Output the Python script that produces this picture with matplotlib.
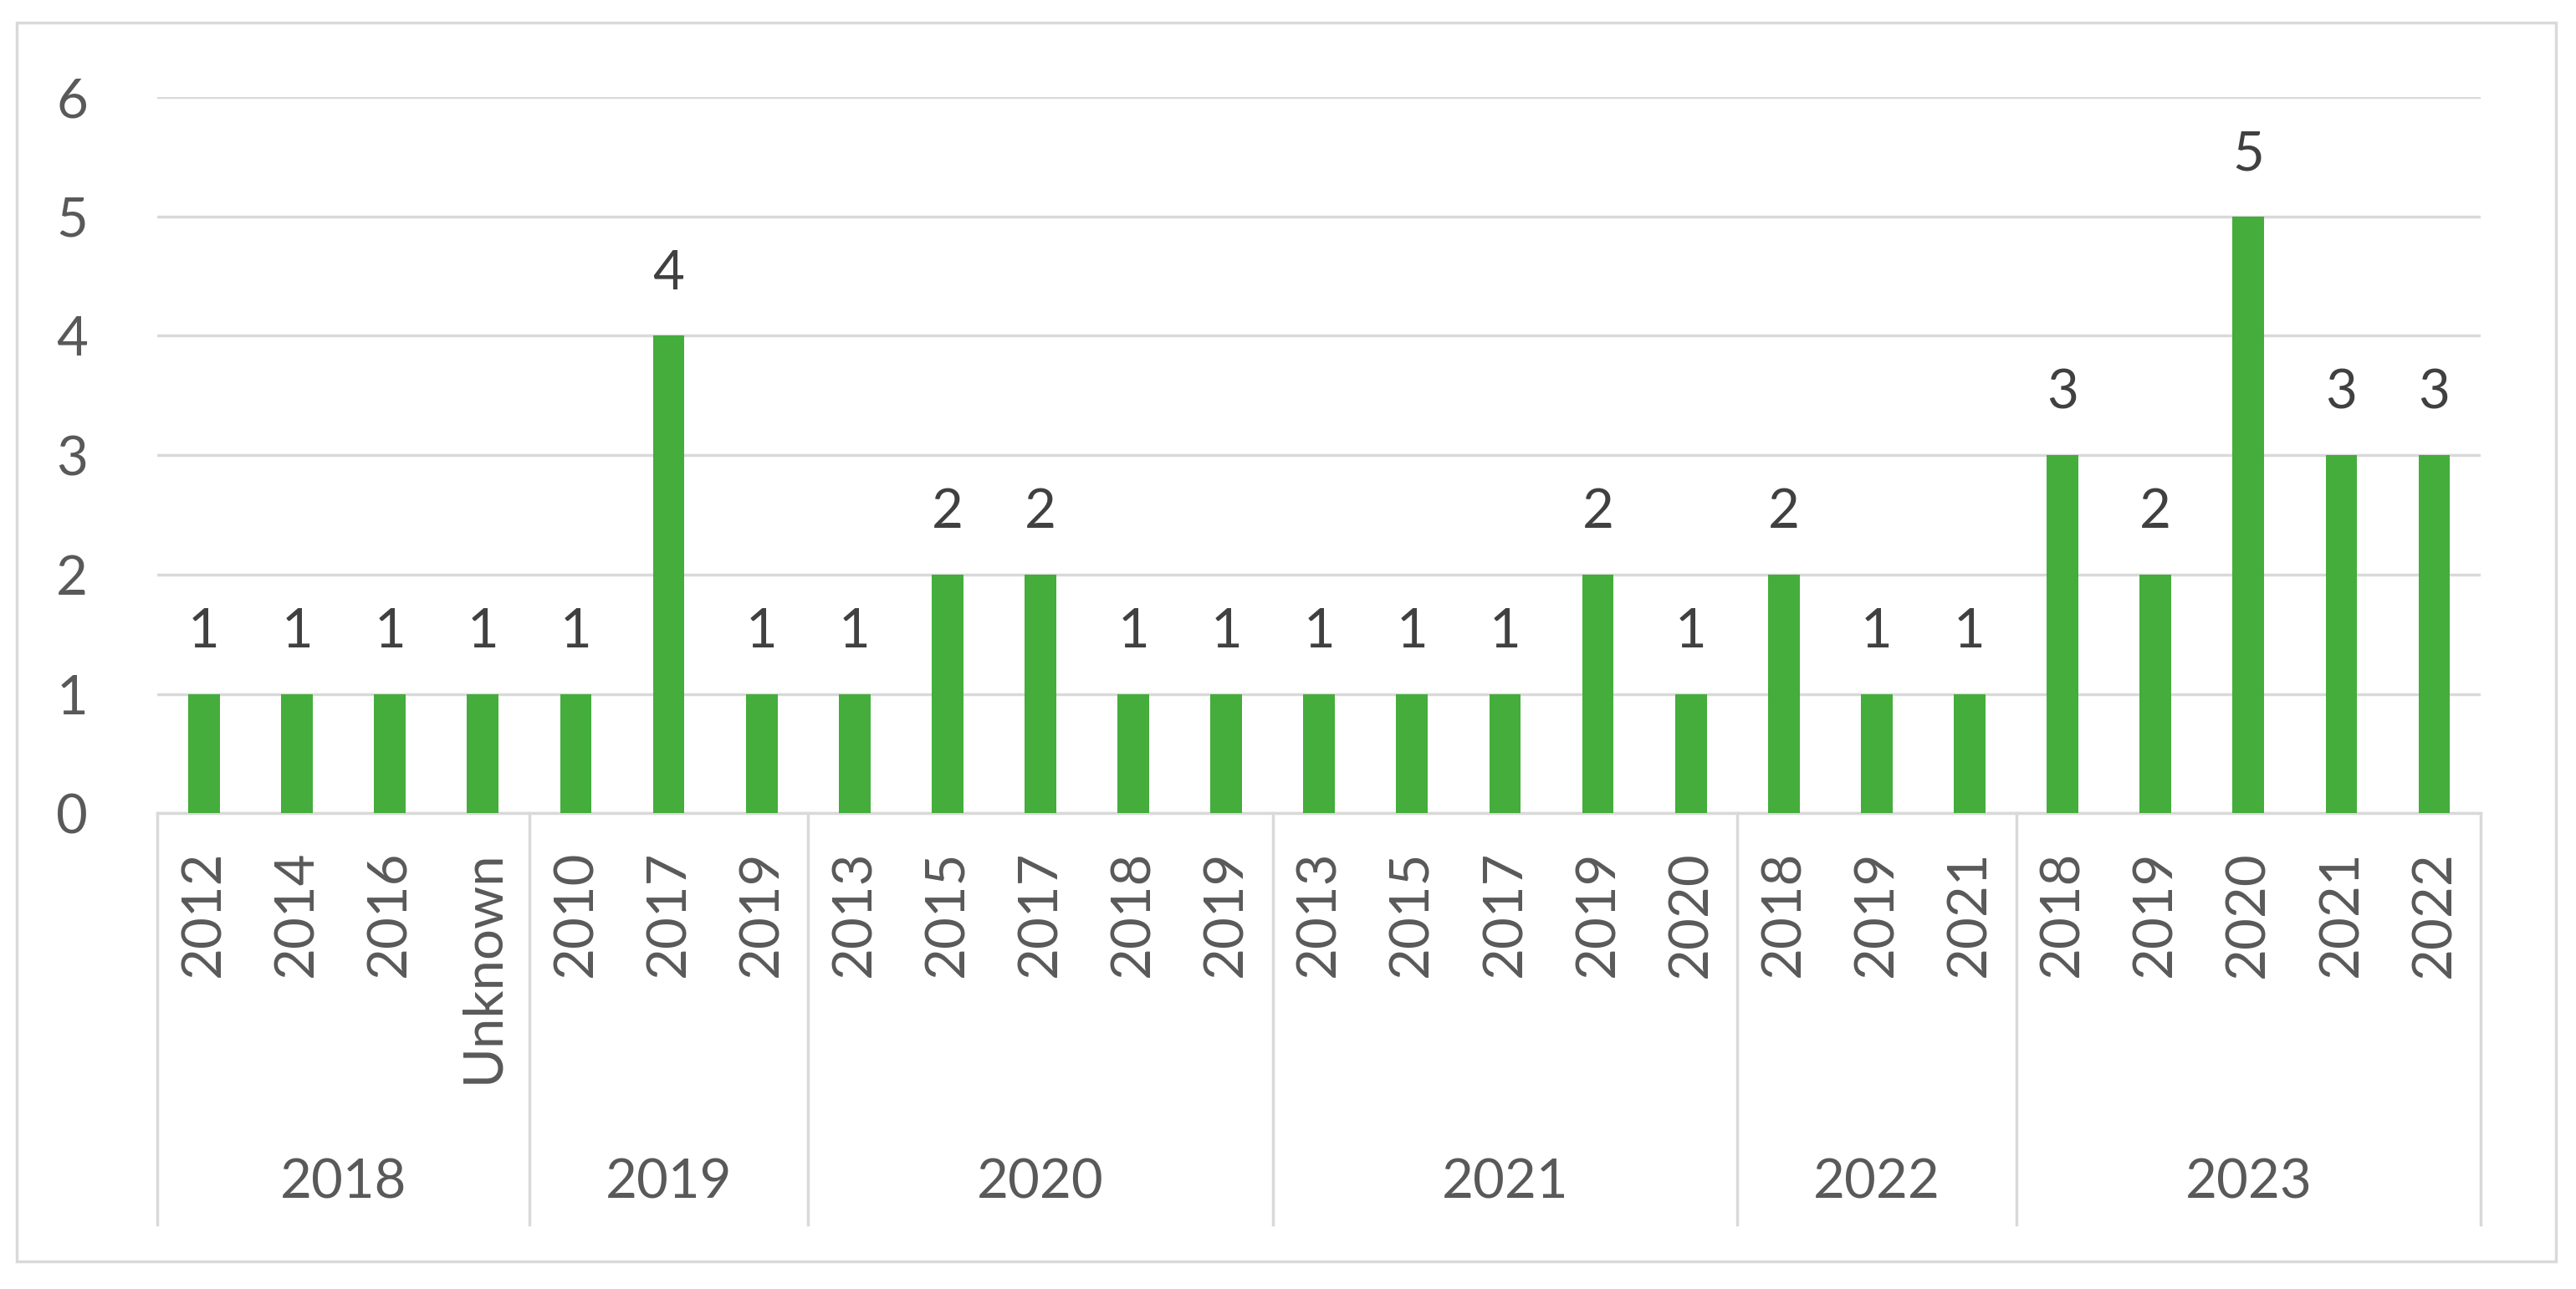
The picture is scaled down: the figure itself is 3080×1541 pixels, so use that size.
import matplotlib
matplotlib.use("Agg")
import matplotlib.pyplot as plt
import matplotlib.transforms as mtransforms
from matplotlib.patches import Rectangle
import numpy as np

plt.rcParams["font.family"] = ["Lato", "DejaVu Sans"]

# ── data ─────────────────────────────────────────────────────────────────────
groups = ["2018", "2019", "2020", "2021", "2022", "2023"]
sub_labels = [
    ["2012", "2014", "2016", "Unknown"],
    ["2010", "2017", "2019"],
    ["2013", "2015", "2017", "2018", "2019"],
    ["2013", "2015", "2017", "2019", "2020"],
    ["2018", "2019", "2021"],
    ["2018", "2019", "2020", "2021", "2022"],
]
counts = [
    [1, 1, 1, 1],
    [1, 4, 1],
    [1, 2, 2, 1, 1],
    [1, 1, 1, 2, 1],
    [2, 1, 1],
    [3, 2, 5, 3, 3],
]

GREEN = "#44AD3B"
GRID = "#D9D9D9"
TXT = "#595959"
LBL = "#404040"
FS = 47

labels = [s for g in sub_labels for s in g]
values = [v for g in counts for v in g]
x = np.arange(len(values))

fig = plt.figure(figsize=(30.8, 15.41), dpi=100, facecolor="white")
ax = fig.add_axes([0.0612, 0.369, 0.9018, 0.5557])

bars = ax.bar(x, values, width=0.34, color=GREEN, zorder=3)
for b, v in zip(bars, values):
    ax.annotate(str(v), xy=(b.get_x() + b.get_width() / 2, v), xytext=(0, 40),
                textcoords="offset points", ha="center", va="baseline",
                fontsize=FS, color=LBL)

ax.set_xlim(-0.5, len(values) - 0.5)
ax.set_ylim(0, 6)
ax.set_yticks(range(7))
ax.yaxis.grid(True, color=GRID, linewidth=2.5)
ax.set_axisbelow(True)
for s in ["top", "right", "left"]:
    ax.spines[s].set_visible(False)
ax.spines["bottom"].set_color(GRID)
ax.spines["bottom"].set_linewidth(2.5)
ax.tick_params(axis="y", length=0, pad=60, labelsize=FS, labelcolor=TXT)
ax.tick_params(axis="x", length=0, pad=32, labelsize=FS, labelcolor=TXT)
ax.set_xticks(x)
ax.set_xticklabels(labels, rotation=90, va="top")

# group separators and group labels
trans = mtransforms.blended_transform_factory(ax.transData, ax.transAxes)
start = 0
edges = [-0.5]
for g, sl in zip(groups, sub_labels):
    n = len(sl)
    ax.text(start + (n - 1) / 2, -0.516, g, transform=trans, ha="center",
            va="center", fontsize=FS, color=TXT)
    start += n
    edges.append(start - 0.5)
for e in edges:
    ax.plot([e, e], [0, -0.574], transform=trans, color=GRID, linewidth=2.5,
            clip_on=False)

# outer chart border
fig.patches.append(Rectangle((20 / 3080, 1 - 1508 / 1541), 3036 / 3080, 1481 / 1541,
                             transform=fig.transFigure, fill=False,
                             edgecolor=GRID, linewidth=2.5))

fig.savefig("out.png", dpi=100, facecolor="white")
